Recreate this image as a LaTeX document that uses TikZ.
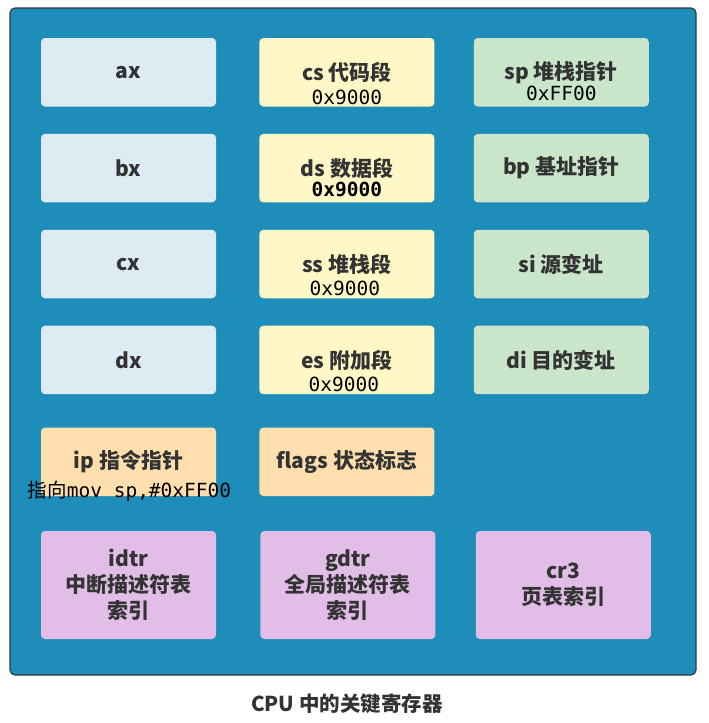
\documentclass[tikz,border=0pt]{standalone}
\usepackage{fontspec}
\setmainfont{Noto Sans CJK SC}
\setmonofont{DejaVu Sans Mono}
\newfontfamily\cjk{Noto Sans CJK SC}
\usepackage{tikz}
\usetikzlibrary{positioning}
\definecolor{cpublue}{HTML}{1E8DB9}
\definecolor{cpuedge}{HTML}{2E3A40}
\definecolor{genreg}{HTML}{DDEBF3}
\definecolor{segreg}{HTML}{FFF8C6}
\definecolor{ptrreg}{HTML}{C9E6CB}
\definecolor{ctlreg}{HTML}{FFDFAD}
\definecolor{tabreg}{HTML}{E1BDE7}
\definecolor{labtext}{HTML}{333333}
\tikzset{
  regbox/.style={
    rounded corners=4pt,
    minimum width=175pt,
    minimum height=68.5pt,
    inner sep=0pt,
    align=center,
    text=labtext,
    font=\fontsize{21}{26}\selectfont\bfseries
  },
  valtext/.style={
    anchor=base,
    inner sep=0pt,
    font=\fontsize{19.5}{22}\selectfont\ttfamily
  }
}

\begin{document}
\begin{tikzpicture}[x=1pt,y=-1pt]
\useasboundingbox (0,0) rectangle (709,723);

% CPU
\node [draw=cpuedge,
    line width=1.2pt,
    fill=cpublue,
    rounded corners=5pt,
    minimum width=686pt,
    minimum height=667pt,
    inner sep=0pt
] (cpu) at (353,341.5) {};

% general registers
\node [regbox, fill=genreg] (ax) at (128.5,72.25) {ax};
\node [regbox, fill=genreg, below=27pt of ax] (bx) {bx};
\node [regbox, fill=genreg, below=27pt of bx] (cx) {cx};
\node [regbox, fill=genreg, below=27pt of cx] (dx) {dx};

% segment registers
\node [regbox, fill=segreg, right=43pt of ax] (cs) {cs 代码段};
\node [regbox, fill=segreg, below=27pt of cs] (ds) {ds 数据段};
\node [regbox, fill=segreg, below=27pt of ds] (ss) {ss 堆栈段};
\node [regbox, fill=segreg, below=27pt of ss] (es) {es 附加段};

% pointer registers
\node [regbox, fill=ptrreg, right=39pt of cs] (sp) {sp 堆栈指针};
\node [regbox, fill=ptrreg, below=27pt of sp] (bp) {bp 基址指针};
\node [regbox, fill=ptrreg, below=27pt of bp] (si) {si 源变址};
\node [regbox, fill=ptrreg, below=27pt of si] (di) {di 目的变址};

% control registers
\node [regbox, fill=ctlreg, below=33pt of dx] (ip) {ip 指令指针};
\node [regbox, fill=ctlreg, below=33pt of es] (flags) {flags 状态标志};

% table registers
\node [regbox, fill=tabreg,
    minimum height=108pt,
    below=34.5pt of ip
] (idtr) {idtr\\中断描述符表\\索引};
\node [regbox, fill=tabreg,
    minimum height=108pt,
    right=44pt of idtr
] (gdtr) {gdtr\\全局描述符表\\索引};
\node [regbox, fill=tabreg,
    minimum height=108pt,
    right=40pt of gdtr
] (crthree) {cr3\\页表索引};

% values
\node [valtext] (csval) at ([yshift=2pt]cs.south) {0x9000};
\node [valtext, font=\fontsize{19.5}{22}\selectfont\ttfamily\bfseries] (dsval) at ([yshift=6pt]ds.south) {0x9000};
\node [valtext] (ssval) at ([xshift=-2pt,yshift=3pt]ss.south) {0x9000};
\node [valtext] (esval) at ([xshift=-3pt,yshift=3pt]es.south) {0x9000};
\node [valtext] (spval) at ([yshift=6pt]sp.south) {0xFF00};
\node [valtext] (ipval) at ([xshift=1pt,yshift=-1pt]ip.south) {{\cjk 指向}mov sp,\#0xFF00};

% caption
\node [text=labtext,
    font=\fontsize{20.5}{22}\selectfont\bfseries
] (caption) at (347,704) {CPU 中的关键寄存器};

\end{tikzpicture}
\end{document}
